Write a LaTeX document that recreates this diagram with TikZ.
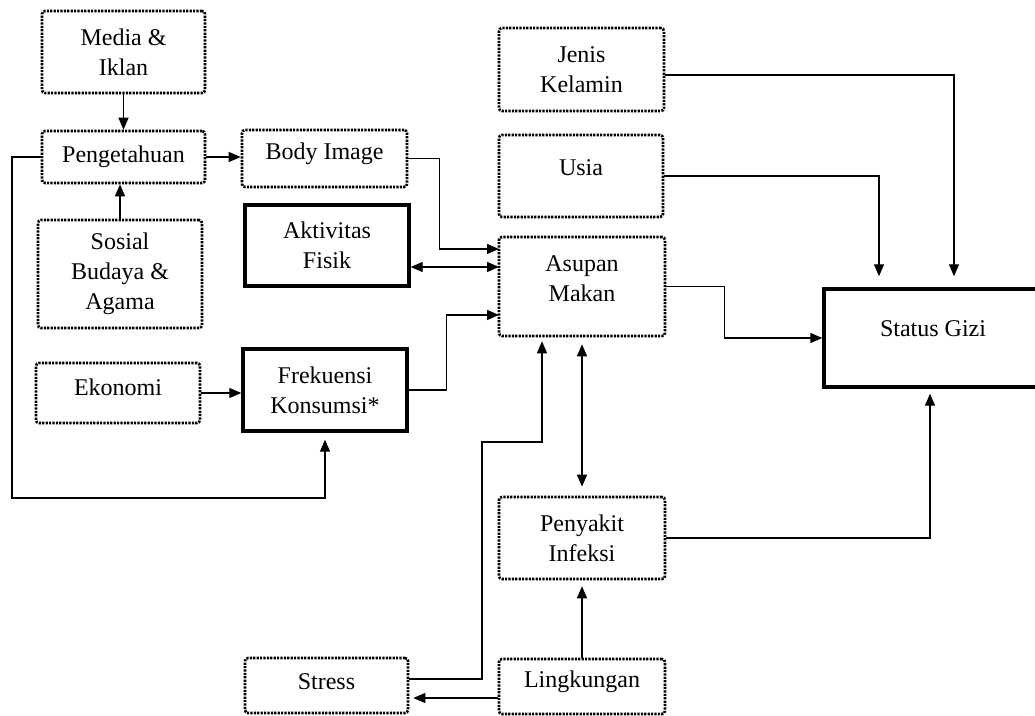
\documentclass[tikz,border=0pt]{standalone}
\usepackage{fontspec}
\setmainfont{Liberation Serif}
\usetikzlibrary{arrows.meta}
\begin{document}
\begin{tikzpicture}[x=0.5pt,y=-0.5pt,
  every node/.style={font=\fontsize{12}{15}\selectfont, align=center, inner sep=0pt},
  dbox/.style={draw, line width=1.3pt, dash pattern=on 1.1pt off 0.6pt, rounded corners=1.5pt},
  tbox/.style={draw, line width=1.7pt},
  arr/.style={line width=0.65pt, -{Triangle[length=6pt,width=5pt]}},
  darr/.style={line width=0.65pt, {Triangle[length=6pt,width=5pt]}-{Triangle[length=6pt,width=5pt]}},
  ]
\useasboundingbox (0,0) rectangle (1035,716);
% boxes
\node[dbox, minimum width=81.5pt, minimum height=41pt] (media) at (123.5,52) {Media \&\\Iklan};
\node[dbox, minimum width=81.5pt, minimum height=26pt] (peng) at (123.5,157) {Pengetahuan};
\node[dbox, minimum width=82.5pt, minimum height=28.5pt] (body) at (324.5,158.5) {};
\node (bodyt) at (324.5,154) {Body Image};
\node[dbox, minimum width=82pt, minimum height=54pt] (sosial) at (120,274) {Sosial\\Budaya \&\\Agama};
\node[tbox, minimum width=82pt, minimum height=40.5pt] (akt) at (327,245.5) {Aktivitas\\Fisik};
\node[dbox, minimum width=82pt, minimum height=30pt] (eko) at (118,393) {};
\node (ekot) at (118,387) {Ekonomi};
\node[tbox, minimum width=82pt, minimum height=41pt] (frek) at (325,390) {Frekuensi\\Konsumsi*};
\node[dbox, minimum width=81.5pt, minimum height=27.5pt] (stress) at (326.5,685.5) {};
\node (stresst) at (326.5,682) {Stress};
\node[dbox, minimum width=82.5pt, minimum height=41.5pt] (jenis) at (581.5,69.5) {Jenis\\Kelamin};
\node[dbox, minimum width=82pt, minimum height=41pt] (usia) at (581,176) {};
\node (usiat) at (581,168) {Usia};
\node[dbox, minimum width=83pt, minimum height=49.5pt] (asupan) at (582,286.5) {};
\node (asupant) at (582,279) {Asupan\\Makan};
\node[dbox, minimum width=83pt, minimum height=41pt] (penyakit) at (582,538) {Penyakit\\Infeksi};
\node[dbox, minimum width=83pt, minimum height=27.5pt] (lingk) at (582,686.5) {};
\node (lingkt) at (582,682) {Lingkungan};
\node[tbox, minimum width=109pt, minimum height=49pt] (status) at (933,338) {};
\node (statust) at (933,329) {Status Gizi};
% helper coordinates
\coordinate (c1) at (12,498);
\coordinate (a1) at (499,249);
\coordinate (a2) at (499,267);
\coordinate (a3) at (499,315);
\coordinate (b1) at (482,442);
% connectors
\draw[arr] (media.south) -- (peng.north);
\draw[arr] (peng.east) -- (peng.east -| body.west);
\draw[arr] (sosial.north) -- (sosial.north |- peng.south);
\draw[arr, shorten >=3.5pt] (peng.west) -| (c1) -| (frek.south);
\draw[arr] (eko.east) -- (eko.east -| frek.west);
\draw[arr] (body.east) -- ++(31,0) |- (a1);
\draw[darr] (akt.east |- a2) -- (a2);
\draw[arr] (frek.east) -- ++(38,0) |- (a3);
\draw[arr, shorten >=2pt] ([yshift=3.25pt]stress.east) -| (b1) -| ([xshift=-20pt]asupan.south);
\draw[darr, shorten <=3.5pt, shorten >=4.5pt] (asupan.south) -- (penyakit.north);
\draw[arr] (asupan.east) -- ++(58,0) |- (status.west);
\draw[arr, shorten >=5.5pt] ([yshift=-2.75pt]jenis.east) -| ([xshift=10.5pt]status.north);
\draw[arr, shorten >=5.5pt] (usia.east) -| ([xshift=-27pt]status.north);
\draw[arr, shorten >=2.5pt] (penyakit.east) -| ([xshift=-1.5pt]status.south);
\draw[arr, shorten >=3pt] (lingk.north) -- (penyakit.south);
\draw[arr, shorten >=2pt] ([yshift=-5.75pt]lingk.west) -- ([yshift=-5.75pt]lingk.west -| stress.east);
\end{tikzpicture}
\end{document}
